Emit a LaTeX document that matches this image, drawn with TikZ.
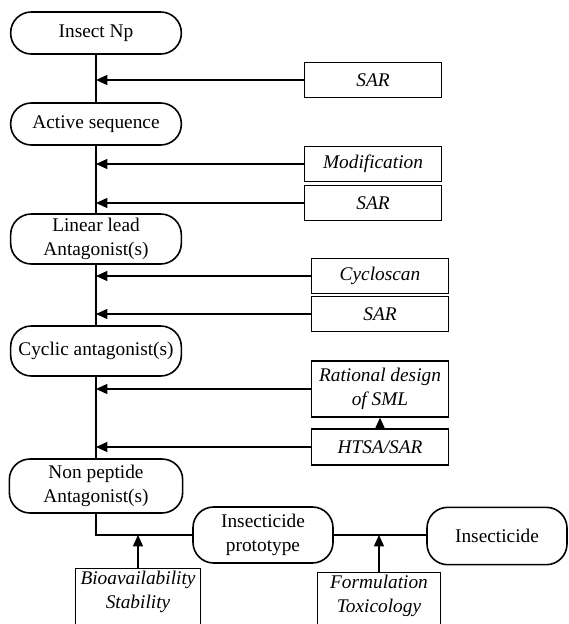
\documentclass[tikz,border=0pt]{standalone}
\usepackage{fontspec}
\setmainfont{Liberation Serif}
\usetikzlibrary{positioning, arrows.meta}

\begin{document}
\begin{tikzpicture}[x=0.75pt, y=-0.75pt,
  every node/.style={font=\fontsize{14.5}{17.5}\selectfont, align=center},
  stage/.style={draw, line width=1.2pt, rounded corners=15.5pt, minimum width=128pt, inner xsep=0pt},
  tool/.style={draw, line width=1.1pt, minimum width=103pt, minimum height=26pt, inner sep=2pt, font=\fontsize{14.5}{17.5}\selectfont\itshape},
  feed/.style={-{Triangle[length=8.5pt, width=7.5pt]}, line width=1.1pt}]
\useasboundingbox (0,0) rectangle (568,624);
\clip (0,0) rectangle (568,624);

\node[stage, minimum height=31.5pt] (np) at (96,33) {Insect Np};
\node[stage, minimum height=31.5pt] (act) at (96,124) {Active sequence};
\node[stage, minimum height=37.5pt] (lin) at (96,239) {Linear lead\\Antagonist(s)};
\node[stage, minimum height=37.5pt] (cyc) at (96,351) {Cyclic antagonist(s)};
\node[stage, minimum height=40.5pt, minimum width=130pt] (nonpep) at (96,486) {Non peptide\\Antagonist(s)};
\node[stage, minimum height=42pt, minimum width=105pt] (proto) at (263,535) {Insecticide\\prototype};
\node[stage, minimum height=43pt, minimum width=105pt] (insect) at (497,536) {Insecticide};

\node[tool] (sar1) at (373,80) {SAR};
\node[tool] (mod) at (373,164) {Modification};
\node[tool] (sar2) at (373,203) {SAR};
\node[tool] (cyclo) at (380,276) {Cycloscan};
\node[tool] (sar3) at (380,314) {SAR};
\node[tool, minimum height=42pt] (sml) at (380,389) {Rational design\\of SML};
\node[tool, minimum height=27pt] (htsa) at (380,447) {HTSA/SAR};
\node[tool, anchor=north, minimum width=94pt] (bio) at (138,568) {Bioavailability\\Stability\\\strut};
\node[tool, anchor=north, minimum width=92pt] (form) at (379,572) {Formulation\\Toxicology\\\strut};

\draw[line width=1.1pt] (np) -- (act) -- (lin) -- (cyc) -- (nonpep);
\draw[line width=1.1pt] (nonpep.south) |- (proto.west);
\draw[line width=1.1pt] (proto.east) -- (proto.east -| insect.west);

\draw[feed] (sar1.west) -- (sar1.west -| np.south);
\draw[feed] (mod.west) -- (mod.west -| np.south);
\draw[feed] (sar2.west) -- (sar2.west -| np.south);
\draw[feed] (cyclo.west) -- (cyclo.west -| np.south);
\draw[feed] (sar3.west) -- (sar3.west -| np.south);
\draw[feed] (sml.west) -- (sml.west -| np.south);
\draw[feed] (htsa.west) -- (htsa.west -| np.south);
\draw[feed] (htsa) -- (sml);

\draw[feed] (bio.north) -- (bio.north |- proto.west);
\draw[feed] (form.north) -- (form.north |- proto.east);
\end{tikzpicture}
\end{document}
